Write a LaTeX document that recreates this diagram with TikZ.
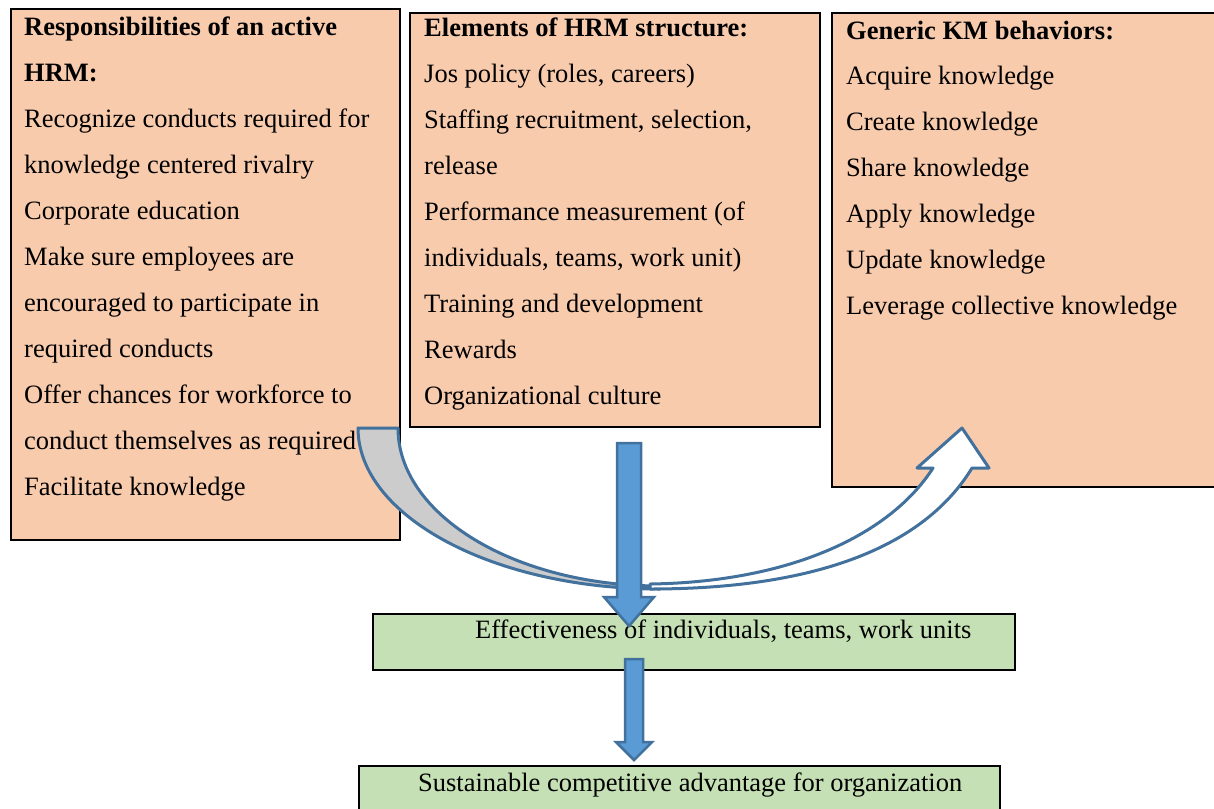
\documentclass[tikz,border=0pt]{standalone}
\usepackage{fontspec}
\setmainfont{Liberation Serif}
\definecolor{peach}{HTML}{F8CBAD}
\definecolor{leaf}{HTML}{C5E0B4}
\definecolor{bluefill}{HTML}{5B9BD5}
\definecolor{blueline}{HTML}{41719C}
\definecolor{bandgray}{HTML}{CCCCCC}
\tikzset{
  hrmbox/.style={draw=black, line width=2.3pt, fill=peach, anchor=north west, inner sep=0pt},
  resbox/.style={draw=black, line width=2.3pt, fill=leaf, anchor=north west, inner sep=0pt},
  txt/.style={anchor=base west, inner sep=0pt, font=\fontsize{26.5}{46}\selectfont},
  blockarrow/.style={draw=blueline, line width=2.5pt, fill=bluefill, line join=miter},
  curvearrow/.style={draw=blueline, line width=3pt, line join=round},
}
\begin{document}
\begin{tikzpicture}[x=1pt, y=-1pt]
\useasboundingbox (0,0) rectangle (1214,808);
% peach boxes
\node[hrmbox, minimum width=389pt, minimum height=531pt] (b1) at (10,8) {};
\node[hrmbox, minimum width=410pt, minimum height=414pt] (b2) at (409,12) {};
\node[hrmbox, minimum width=386pt, minimum height=474pt] (b3) at (831,12) {};
% texts of box 1
\foreach \t [count=\i] in {\textbf{Responsibilities of an active},\textbf{HRM:},
  Recognize conducts required for,knowledge centered rivalry,Corporate education,
  Make sure employees are,encouraged to participate in,required conducts,
  Offer chances for workforce to,conduct themselves as required,Facilitate knowledge}
  \node[txt] (ta\i) at (24,{35.5+46*(\i-1)}) {\t};
% texts of box 2
\foreach \t [count=\i] in {\textbf{Elements of HRM structure:},{Jos policy (roles, careers)},
  {Staffing recruitment, selection,},release,Performance measurement (of,
  {individuals, teams, work unit)},Training and development,Rewards,Organizational culture}
  \node[txt] (tb\i) at (424,{36.5+46*(\i-1)}) {\t};
% texts of box 3
\node[txt] (tc0) at (846,39.5) {\textbf{Generic KM behaviors:}};
\foreach \t [count=\i] in {Acquire knowledge,Create knowledge,Share knowledge,
  Apply knowledge,Update knowledge,Leverage collective knowledge}
  \node[txt] (tc\i) at (846,{84.5+46*(\i-1)}) {\t};
% green boxes
\node[resbox, minimum width=642pt, minimum height=56pt] (g1) at (372,613) {};
\node[txt] (tg1) at (475,638) {Effectiveness of individuals, teams, work units};
\node[resbox, minimum width=641pt, minimum height=60pt] (g2) at (358,765) {};
\node[txt] (tg2) at (418,791) {Sustainable competitive advantage for organization};
% curved band (gray part)
\draw[curvearrow, fill=bandgray] (358,428) .. controls (358,516) and (493,589) .. (660,589)
  -- (660,586) .. controls (515,586) and (398,515) .. (398,428) -- cycle;
% curved up arrow (white part)
\draw[curvearrow, fill=white] (650,589) .. controls (820,589) and (925,545) .. (972,468)
  -- (989,468) -- (962,428) -- (917,468) -- (933,468)
  .. controls (890,535) and (790,582) .. (650,584) -- cycle;
% down arrow from HRM structure
\draw[blockarrow] (617,443) -- (641,443) -- (641,597) -- (654,597) -- (629,626)
  -- (604,597) -- (617,597) -- cycle;
% down arrow to sustainable advantage
\draw[blockarrow] (625,659) -- (643,659) -- (643,742) -- (652,742) -- (634,760)
  -- (616,742) -- (625,742) -- cycle;
\end{tikzpicture}
\end{document}
